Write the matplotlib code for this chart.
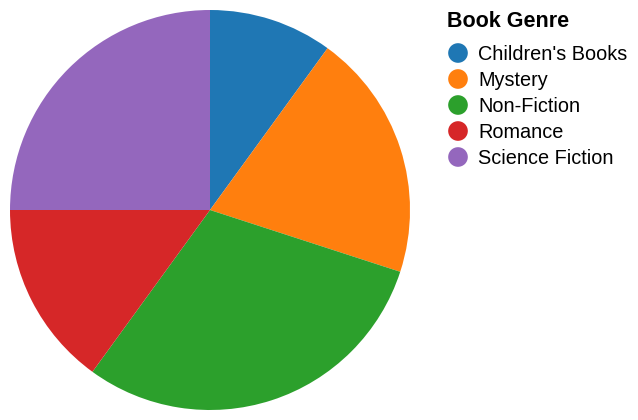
import matplotlib
matplotlib.use("Agg")
from matplotlib import pyplot as plt

genres = ["Children's Books", "Mystery", "Non-Fiction", "Romance", "Science Fiction"]
shares = [10, 20, 30, 15, 25]
colors = ["#1f77b4", "#ff7f0e", "#2ca02c", "#d62728", "#9467bd"]

W, H = 638, 420
plt.rcParams["font.family"] = ["Liberation Sans", "DejaVu Sans"]

fig = plt.figure(figsize=(W / 100, H / 100), dpi=100)

# pie: centre (210, 210), radius 200 px
ax = fig.add_axes([10 / W, 10 / H, 400 / W, 400 / H])
ax.pie(shares, colors=colors, startangle=90, counterclock=False,
       wedgeprops={"linewidth": 0})
ax.set_xlim(-1, 1)
ax.set_ylim(-1, 1)
ax.set_aspect("equal")

# legend drawn in pixel coordinates
lg = fig.add_axes([0, 0, 1, 1], facecolor="none")
lg.set_xlim(0, W)
lg.set_ylim(H, 0)
lg.axis("off")
lg.text(447, 27, "Book Genre", fontsize=15.5, fontweight="bold",
        ha="left", va="baseline")
for i, (g, c) in enumerate(zip(genres, colors)):
    y = 53 + i * 26
    lg.scatter([458], [y], s=200, color=c, edgecolors="none")
    lg.text(478, y, g, fontsize=14.3, ha="left", va="center_baseline")

fig.savefig("out.png", dpi=100)
